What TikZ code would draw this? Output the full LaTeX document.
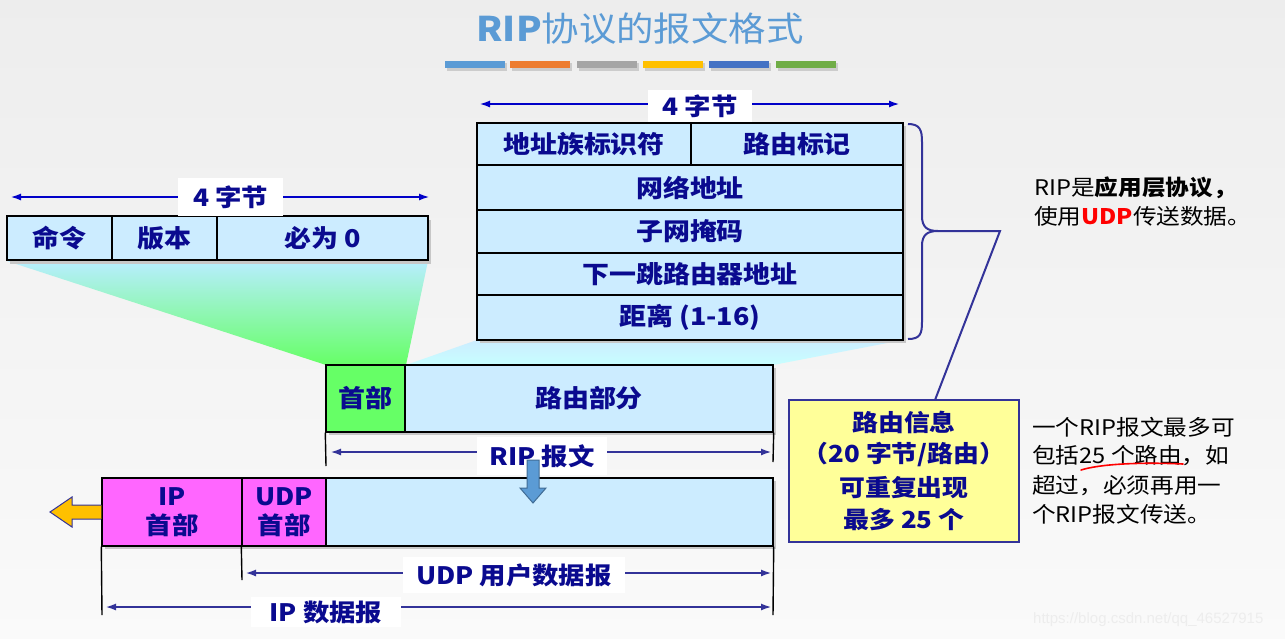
\documentclass[tikz,border=0pt]{standalone}
\usepackage{fontspec}
\setmainfont{Noto Sans CJK SC}[FakeStretch=1.1]
\newfontfamily\wmfont{Liberation Sans}
\usetikzlibrary{arrows.meta}
\definecolor{cNavy}{HTML}{0A0A8F}
\definecolor{cTitle}{HTML}{5B9BD5}
\definecolor{cLB}{HTML}{CCECFF}
\definecolor{cGreen}{HTML}{66FF66}
\definecolor{cMag}{HTML}{FF66FF}
\definecolor{cYel}{HTML}{FFFF99}
\definecolor{cVio}{HTML}{333399}
\definecolor{cBlue}{HTML}{0000C8}
\definecolor{cOrange}{HTML}{FFC000}
\definecolor{cB1}{HTML}{5B9BD5}
\definecolor{cB2}{HTML}{ED7D31}
\definecolor{cB3}{HTML}{A5A5A5}
\definecolor{cB4}{HTML}{FFC000}
\definecolor{cB5}{HTML}{4472C4}
\definecolor{cB6}{HTML}{70AD47}
\definecolor{cRed}{HTML}{FF0000}
\tikzset{
  cell/.style={draw=black, line width=1.4pt, fill=cLB, inner sep=0pt, text=cNavy,
    font=\fontsize{24.5}{28}\selectfont\bfseries, align=center},
  dimA/.style={draw=cBlue, line width=2.8pt, {Latex[length=11pt,width=7pt]}-{Latex[length=11pt,width=7pt]}},
  dimB/.style={draw=cVio, line width=2.8pt, {Latex[length=11pt,width=7pt]}-{Latex[length=11pt,width=7pt]}},
  dimlabel/.style={fill=white, inner sep=0pt, text=cNavy, font=\fontsize{24}{28}\selectfont\bfseries},
  tick/.style={draw=black, line width=1.4pt},
  shd/.style={fill=black!22},
  plain/.style={inner sep=0pt, anchor=west, text=black, font=\fontsize{21.5}{26}\selectfont},
  ytext/.style={inner sep=0pt, text=cNavy, font=\fontsize{23.5}{27}\selectfont\bfseries},
}
\begin{document}
\begin{tikzpicture}[x=1pt,y=-1pt]
% background
\shade[top color=black!7, bottom color=black!2] (0,0) rectangle (1285,638);
\useasboundingbox (0,0) rectangle (1285,638);

% title
\node[inner sep=0pt, text=cTitle, font=\fontsize{34}{40}\selectfont] (title) at (640,29) {\textbf{RIP}协议的报文格式};
\foreach \x/\c in {445/cB1,510/cB2,577/cB3,643/cB4,709/cB5,776/cB6}{
  \fill[black!20] (\x+2,63) rectangle (\x+62,71);
  \fill[\c] (\x,61) rectangle (\x+60,68);
}

% gradient trapezoids
\shade[top color=cLB!90!cyan, bottom color=cGreen] (7,261) -- (428,261) -- (406,365) -- (326,365) -- cycle;
\shade[top color=cLB, bottom color=cyan!22] (477,340) -- (903,340) -- (773,365) -- (406,365) -- cycle;

% upper-left box (header)
\fill[shd] (10,220) rectangle (431,264);
\node[cell, minimum width=105pt, minimum height=44pt] (cmd) at (59.5,238) {命令};
\node[cell, minimum width=105pt, minimum height=44pt] (ver) at (164.5,238) {版本};
\node[cell, minimum width=211pt, minimum height=44pt] (zero) at (322.5,238) {必为 0};
\coordinate (la1) at (10,197);
\coordinate (la2) at (430,197);
\draw[dimA] (la1) -- (la2);
\node[dimlabel, minimum width=105pt, minimum height=38pt] (lalab) at (230.5,197) {4 字节};

% right box (route entry)
\fill[shd] (480,126) rectangle (906,343);
\node[cell, minimum width=214pt, minimum height=42pt] (afi) at (584,144) {地址族标识符};
\node[cell, minimum width=212pt, minimum height=42pt] (tag) at (797,144) {路由标记};
\node[cell, minimum width=426pt, minimum height=45pt] (net) at (690,187.5) {网络地址};
\node[cell, minimum width=426pt, minimum height=43pt] (mask) at (690,231.5) {子网掩码};
\node[cell, minimum width=426pt, minimum height=42pt] (nhop) at (690,274) {下一跳路由器地址};
\node[cell, minimum width=426pt, minimum height=45pt] (dist) at (690,317.5) {距离 (1-16)};
\coordinate (ra1) at (479,104);
\coordinate (ra2) at (900,104);
\draw[dimA] (ra1) -- (ra2);
\node[dimlabel, minimum width=104pt, minimum height=32pt] (ralab) at (700,106) {4 字节};

% brace and connector
\coordinate (btip) at (938,231);
\coordinate (belbow) at (1000,231);
\coordinate (ytop) at (935,400);
\draw[cVio, line width=2pt] (908,124) .. controls (920,124) and (922,130) .. (922,142)
  -- (922,216) .. controls (922,227) and (927,231) .. (btip)
  .. controls (927,231) and (922,235) .. (922,246)
  -- (922,322) .. controls (922,334) and (920,339) .. (908,339);
\draw[cVio, line width=2pt] (btip) -- (belbow) -- (ytop);

% right notes
\node[plain] (n1) at (1034,188) {RIP是\textbf{应用层协议，}};
\node[plain] (n2) at (1034,216) {使用\textcolor{cRed}{\textbf{UDP}}传送数据。};

% RIP message
\fill[shd] (329,368) rectangle (776,435);
\node[cell, fill=cGreen, minimum width=79pt, minimum height=67pt] (hdr) at (365.5,398.5) {首部};
\node[cell, minimum width=368pt, minimum height=67pt] (route) at (589,398.5) {路由部分};
\coordinate (rt1) at (326,466);
\coordinate (rt2) at (773,462);
\draw[tick] (hdr.south west) -- (rt1);
\draw[tick] (route.south east) -- (rt2);
\coordinate (rm1) at (330,452);
\coordinate (rm2) at (772,452);
\draw[dimB] (rm1) -- (rm2);
\node[dimlabel, minimum width=130pt, minimum height=38pt] (rmlab) at (542,456) {RIP 报文};

% IP datagram
\fill[shd] (105,481) rectangle (776,549);
\node[cell, fill=cMag, minimum width=140pt, minimum height=68pt, font=\fontsize{24}{29}\selectfont\bfseries] (iph) at (172,512) {IP\\首部};
\node[cell, fill=cMag, minimum width=84pt, minimum height=68pt, font=\fontsize{24}{29}\selectfont\bfseries] (udph) at (284,512) {UDP\\首部};
\node[cell, minimum width=447pt, minimum height=68pt] (data) at (549.5,512) {};

% down block arrow
\draw[fill=cB1, draw=cB1!70!black, line width=1pt]
  (527,460) -- (539,460) -- (539,488) -- (546,488) -- (533,503) -- (520,488) -- (527,488) -- cycle;

% left orange arrow
\coordinate (otip) at (50,512);
\draw[fill=cOrange, draw=cVio, line width=1pt]
  (iph.west |- 0,505) -- (72,505) -- (72,497) -- (otip) -- (72,527) -- (72,519) -- (iph.west |- 0,519);

% ticks below IP datagram
\coordinate (it1) at (102,615);
\coordinate (it2) at (242,580);
\coordinate (it3) at (773,615);
\draw[tick] (iph.south west) -- (it1);
\draw[tick] (udph.south west) -- (it2);
\draw[tick] (data.south east) -- (it3);
\coordinate (ua1) at (245,573);
\coordinate (ua2) at (772,573);
\draw[dimB] (ua1) -- (ua2);
\node[dimlabel, minimum width=222pt, minimum height=36pt] (ualab) at (514,575) {UDP 用户数据报};
\coordinate (ia1) at (105,607);
\coordinate (ia2) at (772,607);
\draw[dimB] (ia1) -- (ia2);
\node[dimlabel, minimum width=150pt, minimum height=30pt] (ialab) at (326,612) {IP 数据报};

% yellow box
\node[draw=cVio, line width=1.4pt, fill=cYel, minimum width=230pt, minimum height=142pt, inner sep=0pt] (yel) at (904,471) {};
\node[ytext] (y1) at (904,422) {路由信息};
\node[ytext] (y2) at (904,455) {（20 字节/路由）};
\node[ytext] (y3) at (904,488) {可重复出现};
\node[ytext] (y4) at (904,520) {最多 25 个};

% right explanation
\node[plain] (e1) at (1032,427) {一个RIP报文最多可};
\node[plain] (e2) at (1032,456) {包括25 个路由，如};
\node[plain] (e3) at (1032,486) {超过，必须再用一};
\node[plain] (e4) at (1032,514) {个RIP报文传送。};
\draw[cRed, line width=1.6pt, line cap=round] (1081,470) .. controls (1100,464) and (1140,462) .. (1183,464);

% watermark
\node[inner sep=0pt, anchor=west, text=black!7, font=\wmfont\fontsize{15}{18}\selectfont] (wm) at (1033,620) {https://blog.csdn.net/qq\_46527915};
\end{tikzpicture}
\end{document}
